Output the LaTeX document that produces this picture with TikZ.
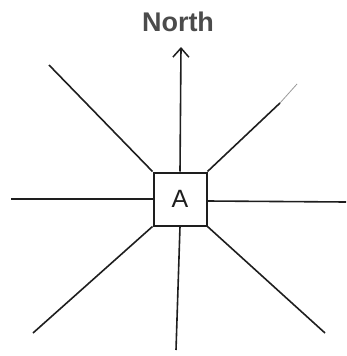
\documentclass[tikz,border=0pt]{standalone}
\usepackage{fontspec}
\setsansfont{Liberation Sans}
\usepackage{xcolor}
\definecolor{InkGray}{HTML}{1E1E1E}
\definecolor{PencilGray}{HTML}{9A9A9A}
\usetikzlibrary{arrows.meta,positioning}

\begin{document}
\begin{tikzpicture}[font=\sffamily,x=1pt,y=-1pt]
\tikzset{
  spoke/.style={draw=InkGray,line width=1.6pt},
  centrebox/.style={draw=InkGray,line width=2pt,fill=white,minimum size=53pt,inner sep=0pt,
    font=\sffamily\fontsize{25}{27}\selectfont,text=InkGray},
  heading/.style={font=\sffamily\fontsize{27}{30}\selectfont\bfseries,text=InkGray!80}
}
\useasboundingbox (0,0) rectangle (347,356);

% central square and the compass label
\node[centrebox] (a) at (180,199) {A};
\node[heading] (north) at (178,22) {North};

% outer ends of the eight spokes
\coordinate (tipN) at (181,47);
\coordinate (endNW) at (49,65);
\coordinate (endNE) at (280,103);
\coordinate (fadeNE) at (297,84);
\coordinate (endW) at (11,199);
\coordinate (endE) at (346,202);
\coordinate (endSW) at (33,333);
\coordinate (endS) at (176,350);
\coordinate (endSE) at (325,333);

\draw[spoke,-{Straight Barb[length=9pt,width=16pt,line width=1.5pt]}] (a.north) -- (tipN);
\draw[spoke] (a.north west) -- (endNW);
\draw[spoke] (a.north east) -- (endNE);
\draw[PencilGray,line width=.8pt] (endNE) -- (fadeNE);
\draw[spoke] (a.west) -- (endW);
\draw[spoke] ([yshift=-2pt]a.east) -- (endE);
\draw[spoke] (a.south west) -- (endSW);
\draw[spoke] (a.south) -- (endS);
\draw[spoke] (a.south east) -- (endSE);
\end{tikzpicture}
\end{document}
